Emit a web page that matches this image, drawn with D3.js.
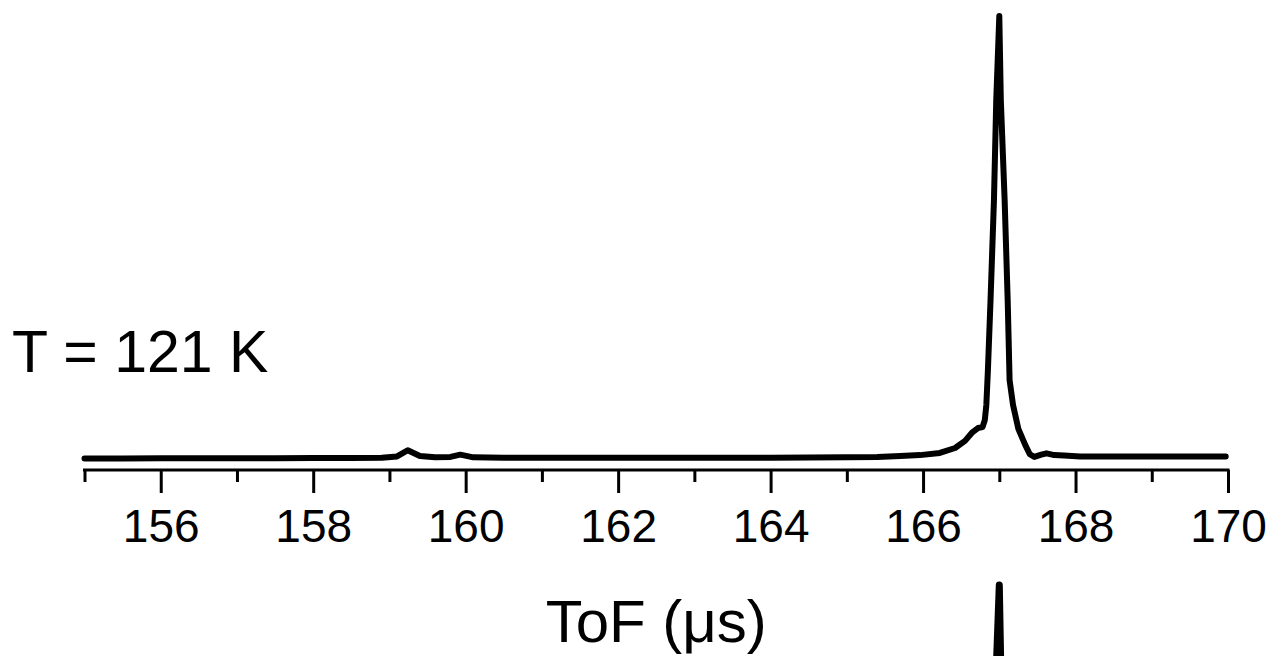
<!DOCTYPE html>
<html>
<head>
<meta charset="utf-8">
<script src="https://cdn.jsdelivr.net/npm/d3@7"></script>
<style>
  html, body { margin: 0; padding: 0; background: #fff; }
  svg { display: block; }
  text { font-family: "Liberation Sans", Arial, sans-serif; fill: #000; }
</style>
</head>
<body>
<svg id="chart" width="1274" height="656"></svg>
<script>
// ---- data ----
const tof = [155.0, 155.5, 156.0, 156.5, 157.0, 157.5, 158.0, 158.5, 158.9, 159.1, 159.24, 159.4, 159.6, 159.8, 159.93, 160.1,
  160.5, 161.0, 162.0, 163.0, 164.0, 164.5, 165.0, 165.4, 165.7, 165.96, 166.22, 166.42, 166.55, 166.65, 166.72, 166.78,
  166.81, 166.83, 166.85, 166.885, 166.93, 166.96, 167.0, 167.02, 167.07, 167.11, 167.135, 167.18, 167.25, 167.34, 167.40,
  167.46, 167.55, 167.62, 167.72, 167.85, 168.06, 168.5, 169.0, 169.5, 169.97];
const intensity = [0.35, 0.35, 0.4, 0.4, 0.4, 0.4, 0.45, 0.45, 0.5, 0.8, 2.2, 0.9, 0.6, 0.7, 1.2, 0.6,
  0.5, 0.5, 0.5, 0.5, 0.5, 0.55, 0.6, 0.7, 0.9, 1.1, 1.6, 2.7, 4.3, 6.3, 7.2, 7.4,
  9.0, 12.4, 20, 36, 58.6, 81, 100, 81, 58.6, 36, 18, 12.4, 7.0, 3.4, 1.3,
  0.7, 1.2, 1.5, 1.1, 1.0, 0.8, 0.8, 0.8, 0.8, 0.8];
// top of the peak of the panel below (cut off by the picture edge)
const lowerTof = [166.93, 166.96, 167.0, 167.02, 167.07];
const lowerIntensity = [58.6, 81, 100, 81, 58.6];
const majorTicks = [156, 158, 160, 162, 164, 166, 168, 170];
const minorTicks = [155, 157, 159, 161, 163, 165, 167, 169];
const xLabel = "ToF (μs)";
const tempLabel = "T = 121 K";

// ---- layout ----
const svg = d3.select("#chart");
const x = d3.scaleLinear().domain([155, 170]).range([84.5, 1228]);
const y = d3.scaleLinear().domain([0, 100]).range([460, 16]);
const yLower = d3.scaleLinear().domain([0, 100]).range([1029, 585]);
const axisY = 470;

const pts = tof.map((t, i) => [t, intensity[i]]);
const lowerPts = lowerTof.map((t, i) => [t, lowerIntensity[i]]);

const line = d3.line().x(d => x(d[0])).y(d => y(d[1]));
const lineLower = d3.line().x(d => x(d[0])).y(d => yLower(d[1]));

svg.append("path").datum(pts)
  .attr("d", line)
  .attr("fill", "none").attr("stroke", "#000")
  .attr("stroke-width", 6).attr("stroke-linejoin", "round").attr("stroke-linecap", "round");

svg.append("path").datum(lowerPts)
  .attr("d", lineLower)
  .attr("fill", "none").attr("stroke", "#000")
  .attr("stroke-width", 7).attr("stroke-linejoin", "round").attr("stroke-linecap", "round");

// ---- axis ----
const gMajor = svg.append("g").attr("transform", `translate(0,${axisY})`)
  .call(d3.axisBottom(x).tickValues(majorTicks).tickSize(23).tickPadding(16).tickFormat(d3.format("d")));
const gMinor = svg.append("g").attr("transform", `translate(0,${axisY})`)
  .call(d3.axisBottom(x).tickValues(minorTicks).tickSize(12).tickFormat(""));

[gMajor, gMinor].forEach(g => {
  g.select(".domain").remove();
  g.selectAll(".tick line").attr("stroke", "#000").attr("stroke-width", 3);
});
gMajor.attr("font-size", 46).attr("font-family", "Liberation Sans, Arial, sans-serif");
gMajor.selectAll(".tick text")
  .attr("font-size", 46)
  .attr("fill", "#000");

svg.append("line")
  .attr("x1", x(155) - 1.5).attr("x2", x(170) + 1.5)
  .attr("y1", axisY).attr("y2", axisY)
  .attr("stroke", "#000").attr("stroke-width", 3);

// ---- texts ----
svg.append("text")
  .attr("x", 12).attr("y", 372)
  .attr("font-size", 59)
  .text(tempLabel);

svg.append("text")
  .attr("x", (x(155) + x(170)) / 2).attr("y", 642)
  .attr("text-anchor", "middle")
  .attr("font-size", 60)
  .text(xLabel);
</script>
</body>
</html>
